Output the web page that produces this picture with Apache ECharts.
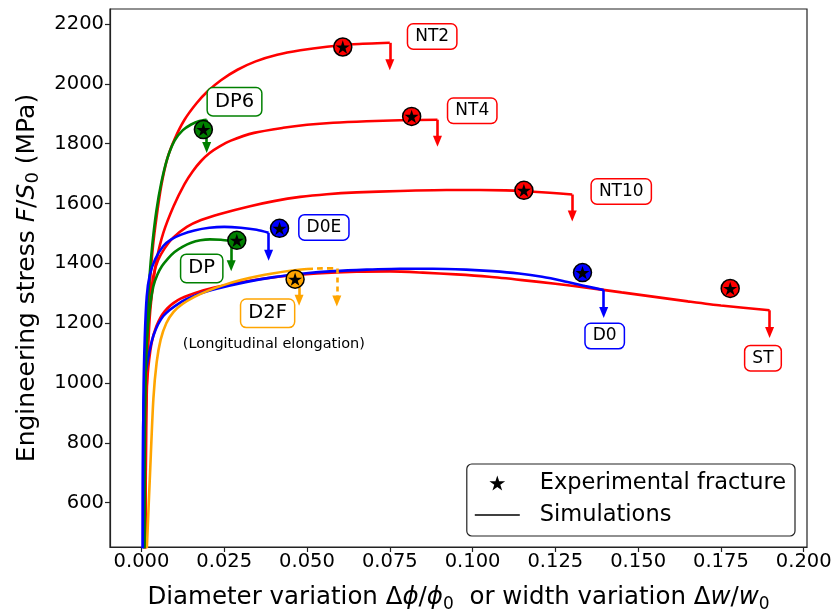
<!DOCTYPE html>
<html><head><meta charset="utf-8">
<script src="https://cdn.jsdelivr.net/npm/echarts@6/dist/echarts.min.js"></script>
<style>html,body{margin:0;padding:0;background:#fff}#c{width:834px;height:611px}</style>
</head><body><div id="c"></div>
<script>
// ---------- data (x = diameter/width variation, y = engineering stress MPa) ----------
const NT2 = [[0.0012,440],[0.0014,900],[0.0018,1100],[0.0026,1336],[0.0035,1460],[0.0046,1558],[0.0060,1660],[0.0078,1750],[0.0100,1815],[0.0130,1880],[0.0167,1936],[0.0200,1975],[0.0240,2012],[0.0290,2047],[0.0345,2075],[0.0410,2097],[0.0480,2112],[0.0560,2124],[0.0640,2132],[0.0750,2137]];
const NT4 = [[0.0012,440],[0.0014,850],[0.0018,1050],[0.0025,1220],[0.0035,1330],[0.0046,1413],[0.0066,1502],[0.0097,1591],[0.0130,1665],[0.0155,1708],[0.0180,1742],[0.0205,1768],[0.0235,1790],[0.0270,1810],[0.0340,1836],[0.0428,1853],[0.0500,1863],[0.0579,1870],[0.0680,1875],[0.0780,1878],[0.0894,1880]];
const NT10 = [[0.0010,440],[0.0012,850],[0.0016,1050],[0.0024,1250],[0.0036,1358],[0.0050,1410],[0.0070,1450],[0.0095,1485],[0.0137,1522],[0.0180,1545],[0.0240,1566],[0.0328,1591],[0.0400,1608],[0.0479,1622],[0.0560,1631],[0.0650,1637],[0.0781,1642],[0.0921,1645],[0.1022,1645],[0.1100,1644],[0.1160,1641],[0.1233,1636],[0.1301,1630]];
const ST = [[0.0010,440],[0.0012,900],[0.0018,1020],[0.0030,1130],[0.0045,1190],[0.0070,1240],[0.0110,1277],[0.0160,1300],[0.0220,1319],[0.0318,1340],[0.0420,1356],[0.0530,1366],[0.0650,1372],[0.0750,1373],[0.0850,1369],[0.0950,1363],[0.1050,1355],[0.1150,1344],[0.1250,1332],[0.1350,1318],[0.1450,1303],[0.1550,1288],[0.1650,1273],[0.1750,1259],[0.1897,1243]];
const DP6 = [[0.0008,440],[0.0009,800],[0.0011,1000],[0.0016,1200],[0.0024,1350],[0.0033,1465],[0.0045,1575],[0.0060,1670],[0.0078,1750],[0.0100,1810],[0.0125,1845],[0.0150,1864],[0.0175,1876],[0.0197,1880]];
const DP = [[0.0009,440],[0.0010,800],[0.0012,1000],[0.0017,1150],[0.0026,1258],[0.0036,1324],[0.0048,1362],[0.0062,1391],[0.0080,1416],[0.0100,1438],[0.0125,1456],[0.0150,1469],[0.0178,1477],[0.0207,1480],[0.0240,1479],[0.0271,1475]];
const D0E = [[0.0004,440],[0.0006,950],[0.0010,1150],[0.0016,1290],[0.0025,1360],[0.0041,1413],[0.0066,1458],[0.0090,1480],[0.0120,1496],[0.0160,1510],[0.0205,1519],[0.0250,1522],[0.0300,1519],[0.0348,1512],[0.0384,1502]];
const D0 = [[0.0004,440],[0.0005,850],[0.0010,1000],[0.0018,1070],[0.0036,1158],[0.0066,1224],[0.0117,1269],[0.0170,1296],[0.0230,1316],[0.0318,1338],[0.0400,1354],[0.0490,1366],[0.0580,1374],[0.0680,1379],[0.0780,1382],[0.0880,1382],[0.0980,1379],[0.1060,1374],[0.1140,1366],[0.1210,1355],[0.1273,1341],[0.1340,1324],[0.1396,1311]];
const D2F = [[0.0016,440],[0.0026,700],[0.0036,947],[0.0046,1070],[0.0058,1145],[0.0075,1200],[0.0097,1238],[0.0125,1265],[0.0160,1288],[0.0200,1308],[0.0250,1328],[0.0300,1344],[0.0350,1357],[0.0400,1367],[0.0450,1375],[0.0500,1381]];
const D2F_long = [[0.0500,1381],[0.0545,1383],[0.0590,1383]];

// fracture arrows: [x, stress at end of curve, stress at arrow end]
const arrowNT2 = [0.0750, 2137, 2064];
const arrowNT4 = [0.0894, 1880, 1808];
const arrowNT10 = [0.1301, 1630, 1558];
const arrowST = [0.1897, 1243, 1169];
const arrowDP6 = [0.0197, 1880, 1787];
const arrowDP = [0.0271, 1475, 1392];
const arrowD0E = [0.0384, 1502, 1427];
const arrowD0 = [0.1396, 1311, 1236];
const arrowD2F = [0.0476, 1378, 1277];
const arrowD2F_long = [0.0590, 1383, 1274];

// experimental fracture points
const expNames = ['NT2','NT4','NT10','ST','DP6','DP','D0E','D0','D2F'];
const expX = [0.0608,0.0816,0.1155,0.1778,0.0187,0.0288,0.0417,0.1332,0.0464];
const expY = [2123,1891,1644,1316,1847,1477,1517,1369,1347];

// label anchors
const labelNames = ['NT2','NT4','NT10','ST','DP6','DP','D0E','D0','D2F'];
const labelX = [0.0878,0.0999,0.1449,0.1877,0.0281,0.0182,0.0551,0.1399,0.0381];
const labelY = [2158,1910,1640,1083,1940,1383,1520,1157,1233];
const noteText = '(Longitudinal elongation)';
const noteX = 0.0400, noteY = 1128;

// ticks
const xTicks = [0,0.025,0.05,0.075,0.1,0.125,0.15,0.175,0.2];
const yTicks = [600,800,1000,1200,1400,1600,1800,2000,2200];

// ---------- styles ----------
const FONT = 'DejaVu Sans';
const RED='#ff0000', BLUE='#0000ff', GREEN='#008000', ORANGE='#ffa500';
const colorOf = {NT2:RED,NT4:RED,NT10:RED,ST:RED,DP6:GREEN,DP:GREEN,D0E:BLUE,D0:BLUE,D2F:ORANGE};
const bigLabel = {DP6:true, DP:true, D2F:true};
const LW = 2.6;
const STAR = 'path://M0,-10 L2.245,-3.09 L9.511,-3.09 L3.633,1.18 L5.878,8.09 L0,3.82 L-5.878,8.09 L-3.633,1.18 L-9.511,-3.09 L-2.245,-3.09 Z';
const BAR = 'path://M0,0 L45,0 L45,1.5 L0,1.5 Z';

function curve(name, data, color, arrow, dashed) {
  return {
    type:'line', name: name, data: data, color: color,
    showSymbol:false, symbol:'none', smooth:0.25,
    lineStyle:{color:color, width:LW, type: dashed ? [6,4] : 'solid'},
    z:2, silent:true, animation:false,
    markLine:{
      silent:true, animation:false, symbol:['none','triangle'], symbolSize:[9,11],
      label:{show:false}, emphasis:{disabled:true},
      lineStyle:{color:color, width:LW, type: dashed ? [5,4] : 'solid'},
      data:[[{coord:[arrow[0],arrow[1]]},{coord:[arrow[0],arrow[2]]}]]
    }
  };
}

const series = [
  curve('NT2c', NT2, RED, arrowNT2),
  curve('NT4c', NT4, RED, arrowNT4),
  curve('NT10c', NT10, RED, arrowNT10),
  curve('STc', ST, RED, arrowST),
  curve('D0c', D0, BLUE, arrowD0),
  curve('D2Fc', D2F, ORANGE, arrowD2F),
  curve('D2Flong', D2F_long, ORANGE, arrowD2F_long, true),
  curve('DPc', DP, GREEN, arrowDP),
  curve('DP6c', DP6, GREEN, arrowDP6),
  curve('D0Ec', D0E, BLUE, arrowD0E),
  {
    type:'scatter', name:'expCircles', silent:true, animation:false, z:5,
    symbol:'circle', symbolSize:18,
    data: expNames.map((n,i)=>({value:[expX[i],expY[i]], itemStyle:{color:colorOf[n], borderColor:'#000', borderWidth:1.5, opacity:1}}))
  },
  {
    type:'scatter', name:'expStars', silent:true, animation:false, z:6,
    symbol:STAR, symbolSize:14, symbolKeepAspect:true,
    itemStyle:{color:'#000', opacity:1},
    data: expNames.map((n,i)=>[expX[i],expY[i]])
  },
  {
    type:'scatter', name:'labels', silent:true, animation:false, z:7, symbolSize:0,
    itemStyle:{opacity:1},
    data: labelNames.map((n,i)=>({
      value:[labelX[i],labelY[i]],
      label:{show:true, position:'inside', formatter:n, color:'#000', opacity:1, fontFamily:FONT,
        fontSize: bigLabel[n] ? 19.5 : 17, backgroundColor:'#fff', borderColor:colorOf[n],
        borderWidth:1.5, borderRadius:5, padding:[4,7,3,7]}
    }))
  },
  {
    type:'scatter', name:'note', silent:true, animation:false, z:7, symbolSize:0,
    itemStyle:{opacity:1},
    data:[{value:[noteX,noteY], label:{show:true, position:'inside', formatter:noteText, color:'#000', opacity:1, fontFamily:FONT, fontSize:14.5}}]
  },
  // legend proxies
  {type:'scatter', name:'Experimental fracture', data:[], symbol:STAR, itemStyle:{color:'#000', opacity:1}},
  {type:'scatter', name:'Simulations', data:[], symbol:BAR, itemStyle:{color:'#000', opacity:1}}
];

const tickText = {color:'#000', fontFamily:FONT, fontSize:19.5};
function nameRich(fs) {
  return {
    t:{fontSize:fs, fontFamily:FONT, color:'#000', lineHeight:30, verticalAlign:'middle'},
    i:{fontSize:fs, fontFamily:FONT, fontStyle:'italic', color:'#000', lineHeight:30, verticalAlign:'middle'},
    s:{fontSize:Math.round(fs*0.7), fontFamily:FONT, color:'#000', lineHeight:17, verticalAlign:'bottom'}
  };
}
const option = {
  animation:false,
  backgroundColor:'#fff',
  grid:{left:110, right:27, top:9, bottom:64, show:true, borderColor:'#222', borderWidth:1.2, backgroundColor:'transparent', outerBoundsMode:'none', containLabel:false},
  legend:{
    orient:'vertical', right:39, top:464,
    data:[{name:'Experimental fracture', icon:STAR}, {name:'Simulations', icon:BAR}],
    itemWidth:45, itemHeight:15, itemGap:6, symbolKeepAspect:true,
    padding:[6,9,8,8], borderColor:'#222', borderWidth:1.2, borderRadius:5, backgroundColor:'#fff',
    textStyle:{color:'#000', fontFamily:FONT, fontSize:22.5, lineHeight:26, padding:[0,0,0,15]},
    selectedMode:false
  },
  xAxis:{
    type:'value', min:-0.0095, max:0.201, splitLine:{show:false},
    axisLine:{show:true, onZero:false, lineStyle:{color:'#222', width:1.2}},
    axisTick:{show:true, length:5, lineStyle:{color:'#222', width:1.2}, customValues:xTicks},
    axisLabel:{...tickText, margin:5, customValues:xTicks, formatter:v=>v.toFixed(3)},
    name:'{t|Diameter variation Δ}{i|ϕ}{t|/}{i|ϕ}{s|0}{t|  or width variation Δ}{i|w}{t|/}{i|w}{s|0}',
    nameLocation:'middle', nameGap:36,
    nameTextStyle:{rich:nameRich(24.5)}
  },
  yAxis:{
    type:'value', min:452, max:2250, splitLine:{show:false},
    axisLine:{show:true, onZero:false, lineStyle:{color:'#222', width:1.2}},
    axisTick:{show:true, length:5, lineStyle:{color:'#222', width:1.2}, customValues:yTicks},
    axisLabel:{...tickText, margin:6, customValues:yTicks, formatter:v=>String(v)},
    name:'{t|Engineering stress }{i|F}{t|/}{i|S}{s|0}{t| (MPa)}',
    nameLocation:'middle', nameGap:68,
    nameTextStyle:{rich:nameRich(25)}
  },
  series: series
};
const chart = echarts.init(document.getElementById('c'), null, {renderer:'canvas'});
chart.setOption(option);
</script>
</body></html>
